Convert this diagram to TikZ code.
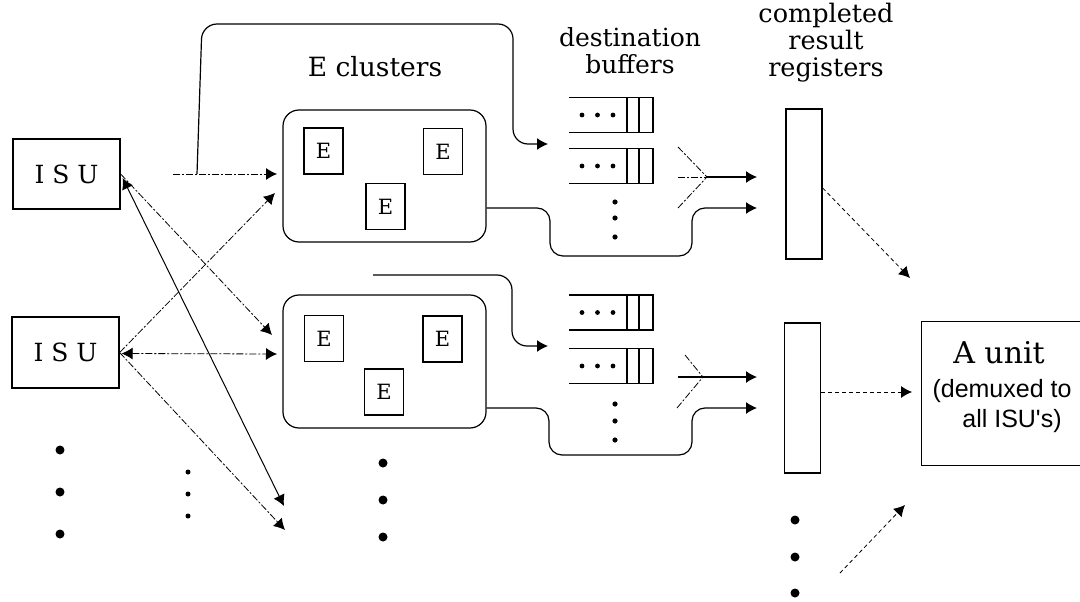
\documentclass[tikz,border=0pt]{standalone}
\usepackage{fontspec}
\newfontfamily\sansf{Liberation Sans}
\newfontfamily\dvs{DejaVu Serif}
\usetikzlibrary{arrows.meta,calc}
\begin{document}
\begin{tikzpicture}[x=1pt,y=-1pt,
  ln/.style={line width=1.2pt},
  fnt/.style={line width=0.8pt, dash pattern=on 7pt off 2pt on 2pt off 2pt},
  dsh/.style={line width=0.8pt, dash pattern=on 4pt off 3pt},
  tip/.style={-{Latex[length=11pt,width=12pt]}},
  dtip/.style={{Latex[length=11pt,width=12pt]}-{Latex[length=11pt,width=12pt]}},
  box/.style={draw, line width=1.3pt, inner sep=0pt},
  clbox/.style={draw, line width=1.2pt, rounded corners=16pt, minimum width=203pt, inner sep=0pt},
  ebox/.style={draw, line width=1.2pt, minimum width=39pt, minimum height=46pt, inner sep=0pt, font=\dvs\fontsize{21}{21}\selectfont},
  reg/.style={draw, line width=1.3pt, minimum width=36pt, minimum height=150pt, inner sep=0pt},
  lbl/.style={inner sep=0pt, align=center},
  bigdot/.style={fill, circle, minimum size=9pt, inner sep=0pt},
  smdot/.style={fill, circle, minimum size=5pt, inner sep=0pt}
]
\useasboundingbox (0,0) rectangle (1080,602);

% ISU boxes
\node[box, minimum width=107pt, minimum height=70pt, font=\dvs\fontsize{25}{25}\selectfont] (isu1) at (66.5,174) {I S U};
\node[box, minimum width=107pt, minimum height=71pt, font=\dvs\fontsize{25}{25}\selectfont] (isu2) at (65.5,352.5) {I S U};

% clusters
\node[lbl, font=\dvs\fontsize{26.5}{26.5}\selectfont] (eclab) at (375,67) {E clusters};
\node[clbox, minimum height=132pt] (cl1) at (384.5,176) {};
\node[clbox, minimum height=133pt] (cl2) at (384.5,361.5) {};
\node[ebox] (e11) at (323.5,151) {E};
\node[ebox] (e12) at (443,151.5) {E};
\node[ebox] (e13) at (385.5,206.5) {E};
\node[ebox] (e21) at (324,338.5) {E};
\node[ebox] (e22) at (442.5,339) {E};
\node[ebox] (e23) at (384,392) {E};

% labels
\node[lbl, font=\dvs\fontsize{25}{27}\selectfont] (dblab) at (630,51) {destination\\buffers};
\node[lbl, font=\dvs\fontsize{25.5}{27}\selectfont] (crlab) at (826,43) {completed\\result\\registers};

% buffers
\foreach \y in {115,166,312.5,366} {
  \draw[ln] (569,\y-17.5) -- (653,\y-17.5) -- (653,\y+17.5) -- (569,\y+17.5);
  \draw[ln] (627,\y-17.5) -- (627,\y+17.5);
  \draw[ln] (639,\y-17.5) -- (639,\y+17.5);
  \fill (582,\y) circle (2.4) (597.5,\y) circle (2.4) (613,\y) circle (2.4);
}
\foreach \y in {202,218,237,404,421,440} \fill (615,\y) circle (2.6);

% registers
\node[reg] (reg1) at (804,184) {};
\node[reg] (reg2) at (802.5,398) {};

% A unit
\node[minimum width=170pt, minimum height=143pt, inner sep=0pt] (au) at (1007,393.5) {};
\draw[line width=1.3pt] (au.north east) -- (au.north west) -- (au.south west) -- (au.south east);
\node[lbl, font=\dvs\fontsize{30}{30}\selectfont] (aut) at (999,353) {A unit};
\node[lbl, font=\sansf\fontsize{25}{25}\selectfont] (aud) at (1002,391) {(demuxed to};
\node[lbl, font=\sansf\fontsize{25}{25}\selectfont] (aua) at (1012,421) {all ISU's)};

% dots
\foreach \y in {450,492,534} \node[bigdot] at (60,\y) {};
\foreach \y in {463,500,537} \node[bigdot] at (383,\y) {};
\foreach \y in {520,557,593} \node[bigdot] at (795,\y) {};
\foreach \y in {472,494,516} \node[smdot] at (188,\y) {};

% coordinates for free ends
\coordinate (h1) at (173,174);
\coordinate (t0) at (197,174);
\coordinate (c1a) at (277,174);
\coordinate (c1b) at (275,193);
\coordinate (c2a) at (272,335);
\coordinate (c2b) at (277,354);
\coordinate (d1) at (284,506);
\coordinate (d2) at (285,530);
\coordinate (f1) at (548,144);
\coordinate (f0) at (373,275);
\coordinate (f2) at (548,346);

% ISU connections
\draw[ln, rounded corners=15pt, tip] (t0) -- (202,24) -- (513,24) -- (513,144) -- (f1);
\draw[fnt, tip] (h1) -- (c1a);
\draw[fnt, tip] (isu2.east) -- (c1b);
\draw[fnt, tip] (isu1.east) -- (c2a);
\draw[line width=1pt, dtip] ($(isu1.east)+(2,4)$) -- (d1);
\draw[fnt, dtip] ($(isu2.east)+(2,1)$) -- (c2b);
\draw[fnt, tip] (isu2.east) -- (d2);
\draw[ln, rounded corners=15pt, tip] (f0) -- (512,275) -- (512,346) -- (f2);

% cluster outputs
\coordinate (o1) at (757,208);
\coordinate (o2) at (757,408);
\draw[ln, rounded corners=13pt, tip] ($(cl1.east)+(0,32)$) -- (550,208) -- (550,256) -- (692,256) -- (692,208) -- (o1);
\draw[ln, rounded corners=13pt, tip] ($(cl2.east)+(0,46.5)$) -- (549,408) -- (549,455) -- (692,455) -- (692,408) -- (o2);

% merges
\coordinate (m1) at (707,177);
\coordinate (q1) at (757,177);
\draw[fnt] (678,147) -- (m1);
\draw[fnt] (678,208) -- (m1);
\draw[fnt] (678,177) -- (m1);
\draw[ln, tip] (m1) -- (q1);
\coordinate (m2) at (703,377);
\coordinate (q2) at (757,377);
\draw[fnt] (685,355) -- (m2);
\draw[fnt] (677,408) -- (m2);
\draw[ln] (678,377) -- (m2);
\draw[ln, tip] (m2) -- (q2);

% register outputs
\coordinate (r1e) at (910,278);
\coordinate (r2e) at (912,392);
\coordinate (b0) at (840,573);
\coordinate (b1) at (905,505);
\draw[dsh, tip] ($(reg1.east)+(0,4)$) -- (r1e);
\draw[dsh, tip] (reg2.east |- r2e) -- (r2e);
\draw[dsh, tip] (b0) -- (b1);
\end{tikzpicture}
\end{document}
